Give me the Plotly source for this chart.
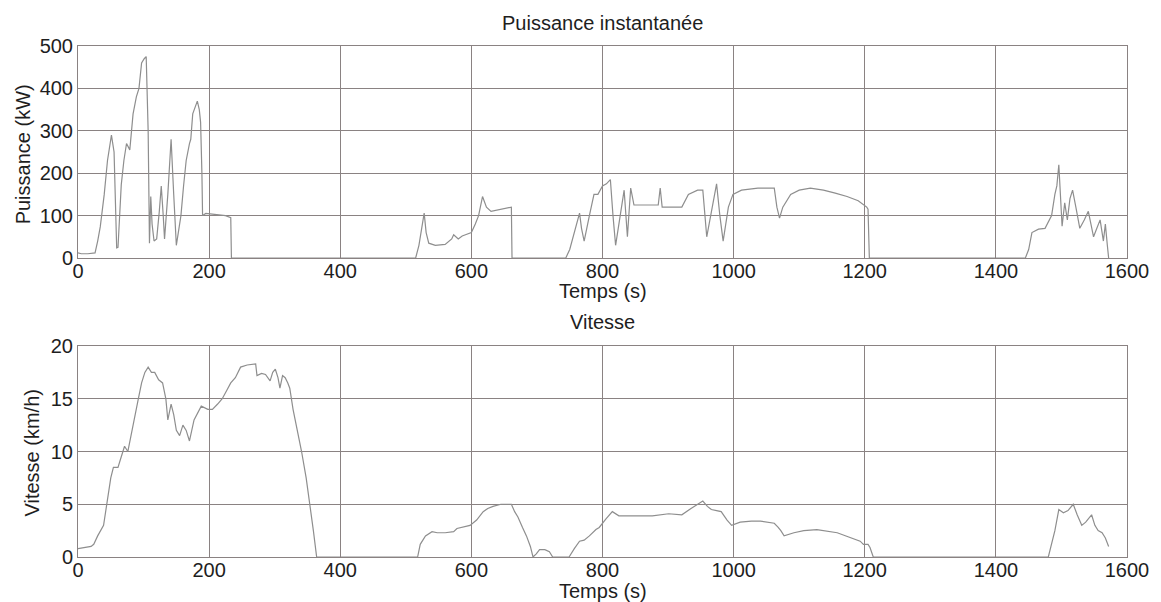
import plotly.graph_objects as go

# Puissance instantanée (kW) vs temps (s)
t_power = [0, 5, 15, 26, 30, 34, 40, 45, 51, 55,
           59, 61, 66, 70, 74, 79, 84, 89, 93, 97,
           101, 104, 107, 109, 111, 113, 116, 120, 124, 127,
           130, 132, 137, 142, 146, 150, 153, 157, 161, 165,
           170, 172, 175, 179, 182, 185, 187, 189, 190, 195,
           210, 225, 233, 234, 400, 515, 520, 524, 528, 531,
           535, 545, 560, 570, 573, 580, 586, 591, 600, 606,
           611, 617, 623, 630, 648, 655, 661, 662, 744, 750,
           757, 765, 768, 772, 780, 787, 793, 800, 806, 812,
           816, 820, 827, 833, 838, 843, 848, 870, 885, 888,
           891, 921, 931, 945, 953, 959, 966, 974, 979, 984,
           992, 999, 1012, 1037, 1062, 1066, 1070, 1075, 1087, 1100,
           1117, 1137, 1155, 1173, 1190, 1203, 1205, 1207, 1445, 1450,
           1455, 1465, 1475, 1485, 1490, 1493, 1496, 1498, 1501, 1505,
           1509, 1513, 1517, 1522, 1528, 1535, 1541, 1545, 1549, 1554,
           1559, 1564, 1567, 1570, 1572]
p_power = [12, 10, 10, 12, 40, 74, 150, 230, 290, 250,
           24, 25, 173, 230, 270, 255, 340, 380, 400, 460,
           470, 475, 300, 35, 145, 80, 40, 45, 110, 170,
           100, 45, 150, 280, 150, 30, 60, 100, 170, 230,
           270, 280, 340, 355, 370, 350, 320, 200, 100, 105,
           102, 100, 95, 0, 0, 0, 30, 70, 106, 60,
           35, 30, 32, 45, 55, 45, 52, 55, 60, 80,
           100, 145, 120, 110, 115, 118, 120, 0, 0, 20,
           60, 106, 70, 40, 100, 150, 150, 170, 175, 185,
           100, 30, 100, 160, 50, 165, 125, 125, 125, 165,
           120, 120, 150, 160, 160, 50, 110, 175, 100, 40,
           120, 150, 160, 165, 165, 120, 94, 120, 150, 160,
           165, 160, 153, 145, 135, 120, 115, 0, 0, 20,
           60, 68, 70, 100, 150, 170, 220, 160, 75, 130,
           90, 140, 160, 120, 70, 90, 110, 80, 50, 70,
           90, 40, 80, 30, 0]

# Vitesse (km/h) vs temps (s)
t_speed = [0, 10, 20, 24, 30, 39, 44, 50, 54, 61,
           66, 71, 76, 82, 87, 92, 97, 102, 107, 112,
           117, 123, 129, 134, 137, 142, 146, 150, 155, 160,
           165, 170, 177, 183, 188, 198, 205, 213, 220, 227,
           233, 240, 248, 258, 268, 271, 273, 280, 286, 293,
           297, 301, 305, 308, 312, 316, 320, 323, 328, 335,
           341, 348, 354, 359, 364, 400, 518, 522, 530, 540,
           548, 560, 573, 578, 590, 598, 608, 618, 625, 633,
           645, 655, 661, 666, 671, 678, 684, 690, 694, 699,
           704, 712, 719, 724, 749, 757, 765, 772, 780, 790,
           795, 805, 815, 825, 850, 876, 901, 921, 935, 945,
           953, 960, 966, 974, 981, 990, 997, 1010, 1027, 1041,
           1055, 1062, 1068, 1072, 1077, 1092, 1107, 1127, 1158, 1193,
           1198, 1205, 1208, 1213, 1480, 1490, 1496, 1503, 1510, 1518,
           1524, 1531, 1537, 1546, 1551, 1556, 1562, 1567, 1572]
v_speed = [0.8, 0.9, 1.0, 1.2, 2, 3, 5, 7.5, 8.5, 8.5,
           9.5, 10.5, 10, 12, 13.5, 15, 16.5, 17.5, 18, 17.5,
           17.5, 16.8, 16.5, 15, 13, 14.5, 13.5, 12, 11.5, 12.5,
           12, 11, 13, 13.8, 14.3, 14, 14, 14.5, 15, 15.8,
           16.5, 17, 18, 18.2, 18.3, 18.3, 17.2, 17.4, 17.3, 16.7,
           17.5, 17.8, 17, 16, 17.2, 17, 16.5, 16, 14, 12,
           10, 7.5, 5, 2.5, 0, 0, 0, 1.2, 2, 2.4,
           2.3, 2.3, 2.4, 2.7, 2.9, 3, 3.5, 4.3, 4.6, 4.8,
           5, 5, 5, 4.3, 3.8, 2.8, 2, 1, 0, 0.3,
           0.7, 0.7, 0.5, 0, 0, 0.8, 1.5, 1.6, 2, 2.6,
           2.8, 3.6, 4.3, 3.9, 3.9, 3.9, 4.1, 4, 4.6, 5.0,
           5.3, 4.8, 4.5, 4.4, 4.3, 3.5, 3, 3.3, 3.4, 3.4,
           3.3, 3.2, 2.8, 2.5, 2, 2.3, 2.5, 2.6, 2.3, 1.5,
           1.2, 1.2, 0.9, 0, 0, 2.5, 4.5, 4.2, 4.4, 5.0,
           4, 3, 3.3, 4, 3, 2.5, 2.3, 1.8, 1.0]

x_ticks = [0, 200, 400, 600, 800, 1000, 1200, 1400, 1600]
p_ticks = [0, 100, 200, 300, 400, 500]
v_ticks = [0, 5, 10, 15, 20]

LINE = "#8e8e8e"
GRID = "#8a8282"
TXT = "#1e1e1e"
FONT = "Liberation Sans"
FS = 20

fig = go.Figure()
fig.add_trace(go.Scatter(x=t_power, y=p_power, mode="lines",
                         line=dict(color=LINE, width=1.2), xaxis="x", yaxis="y",
                         showlegend=False))
fig.add_trace(go.Scatter(x=t_speed, y=v_speed, mode="lines",
                         line=dict(color=LINE, width=1.2), xaxis="x2", yaxis="y2",
                         showlegend=False))

ax_common = dict(showgrid=True, gridcolor=GRID, gridwidth=1, showline=True,
                 linecolor=GRID, linewidth=1, mirror=True, ticks="inside",
                 ticklen=3, tickcolor=GRID, zeroline=False,
                 tickfont=dict(family=FONT, size=FS, color=TXT))

fig.update_layout(
    width=1161, height=602,
    margin=dict(l=78, r=24, t=46, b=45),
    paper_bgcolor="white", plot_bgcolor="white",
    xaxis=dict(domain=[0, 1], anchor="y", range=[0, 1600], tickvals=x_ticks,
               ticklabelstandoff=-5, **ax_common),
    yaxis=dict(domain=[0.5851, 1], anchor="x", range=[0, 500], tickvals=p_ticks, **ax_common),
    xaxis2=dict(domain=[0, 1], anchor="y2", range=[0, 1600], tickvals=x_ticks,
                ticklabelstandoff=-5, **ax_common),
    yaxis2=dict(domain=[0, 0.4129], anchor="x2", range=[0, 20], tickvals=v_ticks, **ax_common),
)

def ann(text, x, y, angle=0):
    fig.add_annotation(text=text, x=x, y=y, xref="paper", yref="paper",
                       showarrow=False, xanchor="center", yanchor="middle",
                       textangle=angle, font=dict(family=FONT, size=FS, color=TXT))

ann("Puissance instantanée", 0.5, 1.045)
ann("Temps (s)", 0.5, 0.5205)
ann("Vitesse", 0.5, 0.4599)
ann("Temps (s)", 0.5, -0.0666)
ann("Puissance (kW)", -0.0529, 0.787, -90)
ann("Vitesse (km/h)", -0.0434, 0.2035, -90)

fig.write_html("out.html")
